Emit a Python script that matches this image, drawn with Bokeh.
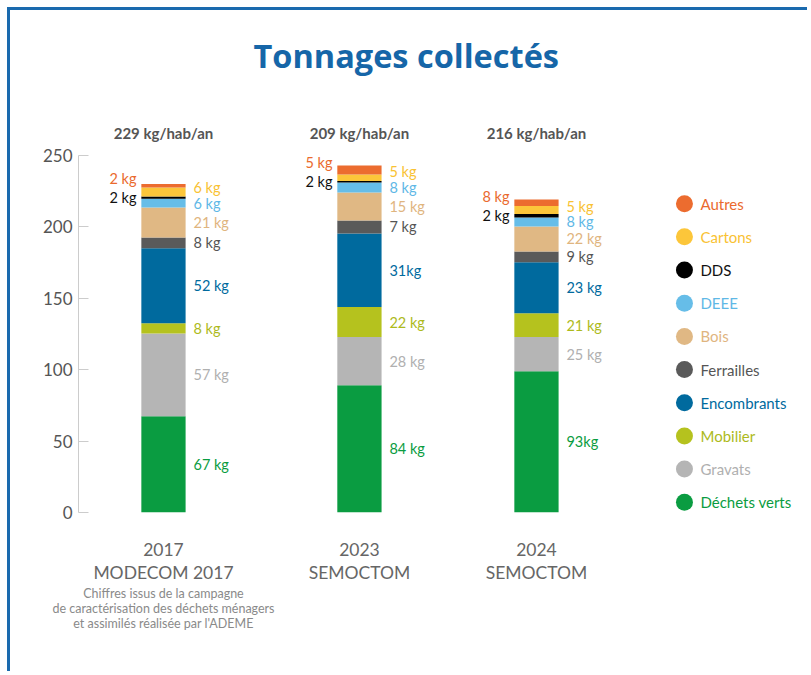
import numpy as np
from bokeh.plotting import figure
from bokeh.models import ColumnDataSource, Range1d, FixedTicker, LinearAxis
from bokeh.core.properties import value
from bokeh.embed import file_html
from bokeh.resources import INLINE

# ---------------- data ----------------
years = ["2017", "2023", "2024"]
sources_lbl = ["MODECOM 2017", "SEMOCTOM", "SEMOCTOM"]
note_2017 = ["Chiffres issus de la campagne",
             "de caractérisation des déchets ménagers",
             "et assimilés réalisée par l'ADEME"]
totals = [229, 209, 216]

# stacked bottom -> top (segment heights as drawn)
categories = ["Déchets verts", "Gravats", "Mobilier", "Encombrants", "Ferrailles",
              "Bois", "DEEE", "DDS", "Cartons", "Autres"]
dechets_verts = [67.3, 89.0, 98.8]
gravats       = [57.9, 33.8, 24.0]
mobilier      = [7.2, 21.0, 16.6]
encombrants   = [52.6, 51.5, 35.8]
ferrailles    = [7.5, 9.1, 7.5]
bois          = [21.0, 19.6, 17.5]
deee          = [6.1, 7.0, 6.3]
dds           = [1.6, 0.9, 2.3]
cartons       = [6.3, 4.7, 5.6]
autres        = [2.3, 6.3, 4.7]

# labels printed next to each segment
lbl_dechets_verts = ["67 kg", "84 kg", "93kg"]
lbl_gravats       = ["57 kg", "28 kg", "25 kg"]
lbl_mobilier      = ["8 kg", "22 kg", "21 kg"]
lbl_encombrants   = ["52 kg", "31kg", "23 kg"]
lbl_ferrailles    = ["8 kg", "7 kg", "9 kg"]
lbl_bois          = ["21 kg", "15 kg", "22 kg"]
lbl_deee          = ["6 kg", "8 kg", "8 kg"]
lbl_dds           = ["2 kg", "2 kg", "2 kg"]
lbl_cartons       = ["6 kg", "5 kg", "5 kg"]
lbl_autres        = ["2 kg", "5 kg", "8 kg"]

seg_colors = ["#0a9c41", "#b5b5b5", "#b5c21e", "#006a9e", "#5a5a5a",
              "#e0b884", "#66bde8", "#000000", "#fcc63a", "#ec6c2f"]
txt_colors = ["#0a9c41", "#b0b0b0", "#adba1c", "#006a9e", "#555555",
              "#dfb57f", "#5fb8e6", "#111111", "#f9c233", "#ea6a2e"]

FONT = "Lato"
GROUP_GAP = 0.107

values = [dechets_verts, gravats, mobilier, encombrants, ferrailles,
          bois, deee, dds, cartons, autres]
labels = [lbl_dechets_verts, lbl_gravats, lbl_mobilier, lbl_encombrants, lbl_ferrailles,
          lbl_bois, lbl_deee, lbl_dds, lbl_cartons, lbl_autres]

# x positions from categories (extra gap between source groups)
grp = np.cumsum([0] + [int(a != b) for a, b in zip(sources_lbl[:-1], sources_lbl[1:])])
xs = [float(i + GROUP_GAP * g) for i, g in enumerate(grp)]

keys = ["c%d" % i for i in range(len(categories))]
data = {"x": xs, "year": years}
for k, v in zip(keys, values):
    data[k] = v
source = ColumnDataSource(data)

p = figure(width=800, height=664, output_backend="svg", toolbar_location=None,
           x_range=Range1d(-0.480, 3.655), y_range=Range1d(0, 298.8),
           min_border_left=68, min_border_right=0,
           min_border_top=75, min_border_bottom=162)
p.styles = {"margin-left": "7px", "margin-top": "7px",
            "border-left": "3px solid #1a6aae", "border-top": "3px solid #1a6aae"}
p.outline_line_color = None
p.xgrid.visible = False
p.ygrid.visible = False
p.background_fill_color = "white"
p.border_fill_color = "white"

p.title.text = "Tonnages collectés"
p.title.text_font = "Open Sans"
p.title.text_font_size = "32.5px"
p.title.text_font_style = "bold"
p.title.text_color = "#1666a8"
p.title.align = "left"
p.title.offset = 175
p.title.standoff = 15

ya = p.yaxis[0]
ya.ticker = FixedTicker(ticks=[0, 50, 100, 150, 200, 250])
ya.bounds = (0, 250)
ya.axis_line_color = "#cccccc"
ya.major_tick_line_color = "#cccccc"
ya.major_tick_in = 10
ya.major_tick_out = 0
ya.minor_tick_line_color = None
ya.major_label_text_font = FONT
ya.major_label_text_font_size = "17px"
ya.major_label_text_color = "#555555"
ya.major_label_standoff = 6

# x axis: year + source
xa = p.xaxis[0]
xa.ticker = FixedTicker(ticks=xs)
xa.major_label_overrides = {x: "%s\n%s" % (y, s) for x, y, s in zip(xs, years, sources_lbl)}
xa.axis_line_color = None
xa.major_tick_line_color = None
xa.minor_tick_line_color = None
xa.major_tick_in = 0
xa.major_tick_out = 0
xa.major_label_standoff = 26
xa.major_label_text_font = FONT
xa.major_label_text_font_size = "17.5px"
xa.major_label_text_color = "#666666"
xa.major_label_text_line_height = 1.1

# second axis: note under 2017
xa2 = LinearAxis(ticker=FixedTicker(ticks=[xs[0]]),
                 major_label_overrides={xs[0]: "\n".join(note_2017)})
xa2.axis_line_color = None
xa2.major_tick_line_color = None
xa2.minor_tick_line_color = None
xa2.major_tick_in = 0
xa2.major_tick_out = 0
xa2.major_label_standoff = 0
xa2.major_label_text_font = FONT
xa2.major_label_text_font_size = "12.5px"
xa2.major_label_text_color = "#8a8a8a"
xa2.major_label_text_line_height = 1.03
p.add_layout(xa2, "below")

p.vbar_stack(keys, x="x", width=0.25, color=seg_colors, line_color=None, source=source)

# label positions (segment midpoints, de-overlapped at top)
vals = np.array(values)
tops = np.cumsum(vals, axis=0)
mids = tops - vals / 2.0
idx = {c: i for i, c in enumerate(categories)}
lab_y = mids.copy()
lab_y[idx["Cartons"]] = np.maximum(mids[idx["Cartons"]], mids[idx["DEEE"]] + 11)
lab_y[idx["Autres"]] = mids[idx["DDS"]] + 13.5

left_cats = ["Autres", "DDS"]
rx, ry, rt, rc, lx, ly, lt, lc = [], [], [], [], [], [], [], []
for c in categories:
    i = idx[c]
    for j in range(len(years)):
        if c in left_cats:
            lx.append(xs[j]); ly.append(lab_y[i, j]); lt.append(labels[i][j]); lc.append(txt_colors[i])
        else:
            rx.append(xs[j]); ry.append(lab_y[i, j]); rt.append(labels[i][j]); rc.append(txt_colors[i])

p.text(x="x", y="y", text="t", text_color="c", x_offset=30, text_align="left",
       text_baseline="middle", text_font=value(FONT), text_font_size="14.5px",
       source=ColumnDataSource(dict(x=rx, y=ry, t=rt, c=rc)))
p.text(x="x", y="y", text="t", text_color="c", x_offset=-27, text_align="right",
       text_baseline="middle", text_font=value(FONT), text_font_size="14.5px",
       source=ColumnDataSource(dict(x=lx, y=ly, t=lt, c=lc)))

# totals header
p.text(x=xs, y=[250] * 3, text=["%d kg/hab/an" % t for t in totals], y_offset=-22.5,
       text_align="center", text_baseline="middle", text_font=value(FONT),
       text_font_size="15px", text_font_style="bold", text_color="#555555")

# legend (top -> bottom)
LEG_X = 2.943
LEG_Y0 = 216.1
LEG_STEP = 33.2 / 1.43
order = list(range(len(categories)))[::-1]
leg_y = [LEG_Y0 - n * LEG_STEP for n in range(len(order))]
p.scatter(x=[LEG_X] * len(order), y=leg_y, marker="circle", size=17,
          color=[seg_colors[i] for i in order], line_color=None)
p.text(x=[LEG_X] * len(order), y=leg_y, text=[categories[i] for i in order], x_offset=16,
       text_align="left", text_baseline="middle", text_font=value(FONT),
       text_font_size="15px", text_color=[txt_colors[i] for i in order])

open("out.html", "w").write(file_html(p, INLINE))
